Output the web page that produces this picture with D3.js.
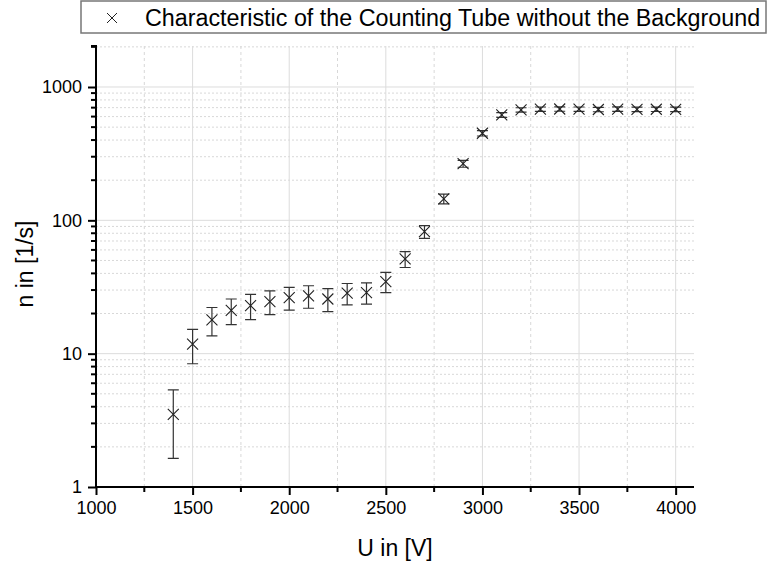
<!DOCTYPE html>
<html>
<head>
<meta charset="utf-8">
<script src="https://d3js.org/d3.v7.min.js"></script>
<style>
  body { margin: 0; background: #fff; }
  text { font-family: "Liberation Sans", Arial, sans-serif; fill: #000; }
</style>
</head>
<body>
<svg id="chart" width="767" height="563"></svg>
<script>
// data
var voltage = [1400, 1500, 1600, 1700, 1800, 1900, 2000, 2100, 2200, 2300, 2400, 2500, 2600, 2700,
               2800, 2900, 3000, 3100, 3200, 3300, 3400, 3500, 3600, 3700, 3800, 3900, 4000];
var rate = [3.5, 11.8, 17.9, 21.1, 22.9, 24.6, 26.3, 27.1, 25.7, 28.4, 28.7, 34.7, 51.3, 82.3,
            145, 266, 450, 617, 673, 682, 684, 682, 678, 683, 680, 681, 680];
var rateErr = [1.86, 3.4, 4.3, 4.6, 4.9, 5.0, 5.1, 5.2, 5.0, 5.2, 5.2, 6.0, 7.0, 9.0,
               12, 16, 21, 25, 26, 26, 26, 26, 26, 26, 26, 26, 26];
var xTicks = [1000, 1500, 2000, 2500, 3000, 3500, 4000];
var xMinorTicks = [1250, 1750, 2250, 2750, 3250, 3750];
var yTicks = [1, 10, 100, 1000];
var seriesName = "Characteristic of the Counting Tube without the Background";
var xTitle = "U in [V]";
var yTitle = "n in [1/s]";

var svg = d3.select("#chart");
var mLeft = 96, mRight = 694, mTop = 46, mBottom = 487;

var x = d3.scaleLinear().domain([1000, 4095]).range([mLeft, mRight]);
var y = d3.scaleLog().domain([1, 2030]).range([mBottom, mTop]);

// minor y values 2..9 per decade
var yMinor = [];
yTicks.forEach(function(d) {
  for (var k = 2; k <= 9; k++) { if (d * k < 2030) yMinor.push(d * k); }
});

// grid
var grid = svg.append("g");
grid.selectAll(".gxm").data(xMinorTicks).enter().append("line")
  .attr("x1", d => x(d)).attr("x2", d => x(d)).attr("y1", mTop).attr("y2", mBottom)
  .attr("stroke", "#d8d8d8").attr("stroke-dasharray", "3,3");
grid.selectAll(".gym").data(yMinor).enter().append("line")
  .attr("x1", mLeft).attr("x2", mRight).attr("y1", d => y(d)).attr("y2", d => y(d))
  .attr("stroke", "#d8d8d8").attr("stroke-dasharray", "2,2");
grid.selectAll(".gx").data(xTicks.slice(1)).enter().append("line")
  .attr("x1", d => x(d)).attr("x2", d => x(d)).attr("y1", mTop).attr("y2", mBottom)
  .attr("stroke", "#dcdcdc");
grid.selectAll(".gy").data(yTicks.slice(1)).enter().append("line")
  .attr("x1", mLeft).attr("x2", mRight).attr("y1", d => y(d)).attr("y2", d => y(d))
  .attr("stroke", "#dcdcdc");

// axes
var xAxisG = svg.append("g").attr("transform", "translate(0," + mBottom + ")")
  .call(d3.axisBottom(x).tickValues(xTicks).tickFormat(d3.format("d")).tickSize(8).tickPadding(6));
xAxisG.append("g").selectAll("line").data(xMinorTicks).enter().append("line")
  .attr("x1", d => x(d)).attr("x2", d => x(d)).attr("y1", 0).attr("y2", 5)
  .attr("stroke", "#000").attr("stroke-width", 2);

var yAxisG = svg.append("g").attr("transform", "translate(" + mLeft + ",0)")
  .call(d3.axisLeft(y).tickValues(yTicks).tickFormat(d3.format("d")).tickSize(8).tickPadding(6));
yAxisG.append("g").selectAll("line").data(yMinor).enter().append("line")
  .attr("x1", 0).attr("x2", -5).attr("y1", d => y(d)).attr("y2", d => y(d))
  .attr("stroke", "#000").attr("stroke-width", 2);

[xAxisG, yAxisG].forEach(function(g) {
  g.attr("font-size", 18).attr("font-family", "Liberation Sans, Arial, sans-serif");
  g.selectAll(".tick line").attr("stroke-width", 2);
});
xAxisG.select(".domain").attr("stroke-width", 2).attr("d", "M" + mLeft + ",0H" + mRight);
yAxisG.select(".domain").attr("stroke-width", 2).attr("d", "M-5," + mTop + "H0V" + mBottom);

// error bars
var pts = voltage.map(function(v, i) { return { u: v, n: rate[i], e: rateErr[i] }; });
var eb = svg.append("g").attr("stroke", "#333").attr("stroke-width", 1.2).attr("fill", "none");
eb.selectAll("path").data(pts).enter().append("path")
  .attr("d", function(d) {
    var cx = x(d.u), y1 = y(d.n + d.e), y0 = y(Math.max(d.n - d.e, 1.01)), w = 5.5;
    return "M" + (cx - w) + "," + y1 + "H" + (cx + w) + "M" + cx + "," + y1 + "V" + y0 +
           "M" + (cx - w) + "," + y0 + "H" + (cx + w);
  });

// markers
function cross(cx, cy, s) {
  return "M" + (cx - s) + "," + (cy - s) + "L" + (cx + s) + "," + (cy + s) +
         "M" + (cx - s) + "," + (cy + s) + "L" + (cx + s) + "," + (cy - s);
}
svg.append("g").selectAll("path").data(pts).enter().append("path")
  .attr("d", d => cross(x(d.u), y(d.n), 5.5))
  .attr("stroke", "#222").attr("stroke-width", 1.1).attr("fill", "none");

// axis titles
svg.append("text").attr("x", 395).attr("y", 556).attr("text-anchor", "middle")
  .attr("font-size", 23).text(xTitle);
svg.append("text").attr("transform", "translate(33,264) rotate(-90)").attr("text-anchor", "middle")
  .attr("font-size", 23).text(yTitle);

// legend
var lg = svg.append("g");
lg.append("rect").attr("x", 81).attr("y", 1).attr("width", 685).attr("height", 32)
  .attr("fill", "#fff").attr("stroke", "#777").attr("stroke-width", 1.5);
lg.append("path").attr("d", cross(112, 18, 5)).attr("stroke", "#222").attr("stroke-width", 1).attr("fill", "none");
lg.append("text").attr("x", 145).attr("y", 26).attr("font-size", 23.3).text(seriesName);
</script>
</body>
</html>
